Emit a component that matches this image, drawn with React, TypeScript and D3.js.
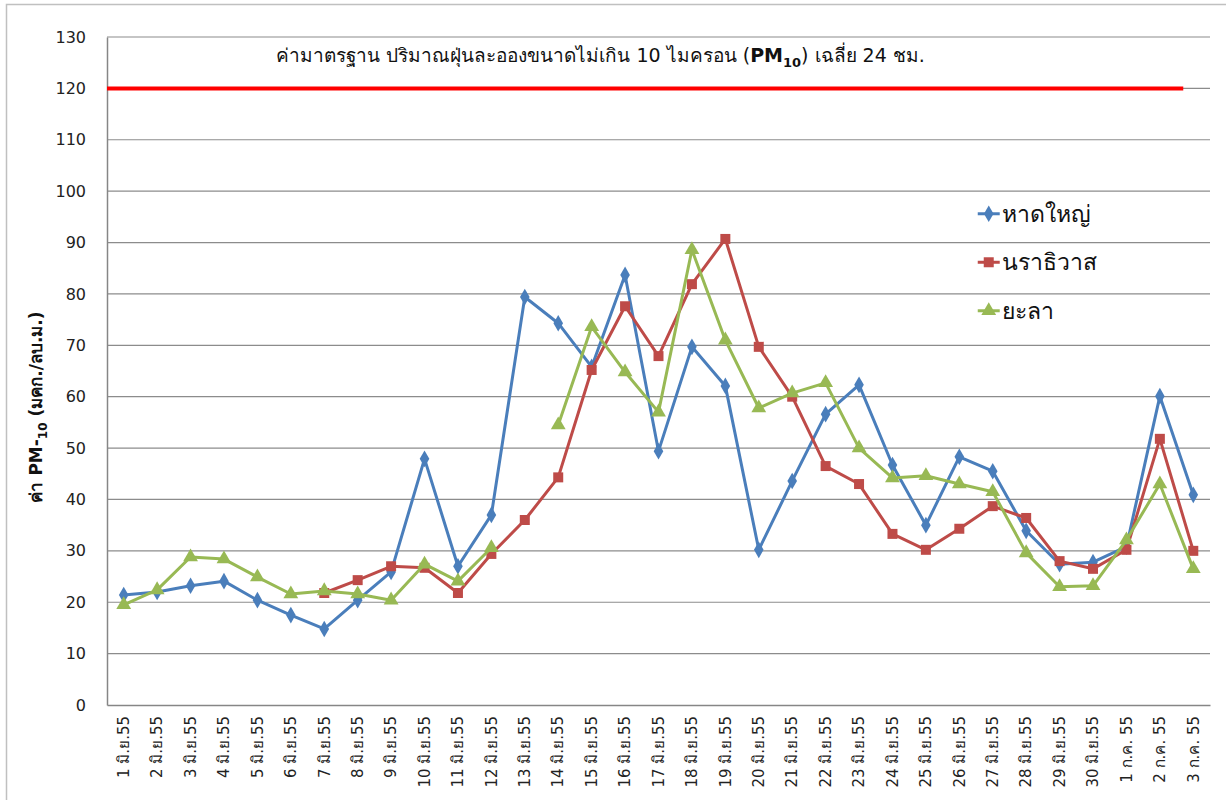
import React, { useEffect, useRef } from 'react';
import * as d3 from 'd3';

const days: string[] = [
  '1 มิ.ย.55', '2 มิ.ย.55', '3 มิ.ย.55', '4 มิ.ย.55', '5 มิ.ย.55', '6 มิ.ย.55', '7 มิ.ย.55',
  '8 มิ.ย.55', '9 มิ.ย.55', '10 มิ.ย.55', '11 มิ.ย.55', '12 มิ.ย.55', '13 มิ.ย.55', '14 มิ.ย.55',
  '15 มิ.ย.55', '16 มิ.ย.55', '17 มิ.ย.55', '18 มิ.ย.55', '19 มิ.ย.55', '20 มิ.ย.55', '21 มิ.ย.55',
  '22 มิ.ย.55', '23 มิ.ย.55', '24 มิ.ย.55', '25 มิ.ย.55', '26 มิ.ย.55', '27 มิ.ย.55', '28 มิ.ย.55',
  '29 มิ.ย.55', '30 มิ.ย.55', '1 ก.ค. 55', '2 ก.ค. 55', '3 ก.ค. 55',
];

// หาดใหญ่
const hatyai: (number | null)[] = [
  21.4, 22, 23.2, 24.1, 20.4, 17.5, 14.8, 20.4, 25.9, 47.9, 27, 37, 79.4, 74.3, 65.8, 83.7, 49.4,
  69.7, 62.1, 30.2, 43.6, 56.6, 62.3, 46.7, 35, 48.3, 45.5, 33.9, 27.4, 27.8, 30.8, 60.1, 40.9,
];

// นราธิวาส
const narathiwat: (number | null)[] = [
  null, null, null, null, null, null, 21.8, 24.3, 27, 26.7, 21.8, 29.4, 36, 44.3, 65.2, 77.6, 67.9,
  81.9, 90.7, 69.7, 60, 46.5, 43, 33.3, 30.2, 34.3, 38.7, 36.4, 28, 26.5, 30.2, 51.8, 30,
];

// ยะลา
const yala: (number | null)[] = [
  19.5, 22.4, 28.8, 28.4, 24.9, 21.6, 22.2, 21.6, 20.4, 27.4, 24.1, 30.6, null, 54.5, 73.6, 64.8, 57,
  88.6, 71, 57.8, 60.7, 62.7, 50, 44.2, 44.6, 43, 41.5, 29.6, 23, 23.2, 32.1, 43, 26.5,
];

const yTicks: number[] = d3.range(0, 131, 10);
const standard = 120;

const seriesList = [
  { name: 'หาดใหญ่', values: hatyai, color: '#4A7EBB', marker: 'diamond' },
  { name: 'นราธิวาส', values: narathiwat, color: '#BE4B48', marker: 'square' },
  { name: 'ยะลา', values: yala, color: '#98B954', marker: 'triangle' },
];

const font = "Tahoma, 'DejaVu Sans', 'Noto Sans', sans-serif";

const App = () => {
  const svgRef = useRef<SVGSVGElement>(null);

  useEffect(() => {
    const root = d3.select(svgRef.current);
    root.selectAll('*').remove();

    const W = 1226;
    const H = 800;
    const margin = { top: 37, right: 16, bottom: 95, left: 107 };
    const width = W - margin.left - margin.right;
    const height = H - margin.top - margin.bottom;

    root.attr('width', W).attr('height', H);

    // chart border
    root.append('rect')
      .attr('x', 6.5).attr('y', 4.5)
      .attr('width', W).attr('height', H)
      .attr('fill', 'none').attr('stroke', '#c0c0c0').attr('stroke-width', 1.5);

    const g = root.append('g').attr('transform', `translate(${margin.left},${margin.top})`);

    const x = d3.scaleBand().domain(days).range([0, width]);
    const y = d3.scaleLinear().domain([0, 130]).range([height, 0]);
    const cx = (d: string) => (x(d) as number) + x.bandwidth() / 2;

    // grid
    g.append('g')
      .selectAll('line')
      .data(yTicks.filter(t => t > 0))
      .enter()
      .append('line')
      .attr('x1', 0).attr('x2', width)
      .attr('y1', d => y(d)).attr('y2', d => y(d))
      .attr('stroke', '#8c8c8c').attr('stroke-width', 1.2);

    // axes
    const yAxis = g.append('g').call(d3.axisLeft(y).tickValues(yTicks).tickSize(0).tickPadding(21));
    yAxis.select('.domain').attr('stroke', '#868686').attr('stroke-width', 1.5);
    yAxis.selectAll('text')
      .attr('font-family', font).attr('font-size', 16).attr('fill', '#222');

    const xAxis = g.append('g')
      .attr('transform', `translate(0,${height})`)
      .call(d3.axisBottom(x).tickSize(0).tickPadding(0));
    xAxis.select('.domain').attr('stroke', '#868686').attr('stroke-width', 1.5);
    xAxis.selectAll('text')
      .attr('font-family', font).attr('font-size', 15).attr('fill', '#222')
      .attr('text-anchor', 'end')
      .attr('dy', '0.35em')
      .attr('transform', 'translate(0,11) rotate(-90)');

    // standard line
    g.append('line')
      .attr('x1', 0).attr('x2', cx(days[days.length - 1]) - x.bandwidth() * 0.3)
      .attr('y1', y(standard)).attr('y2', y(standard))
      .attr('stroke', '#FF0000').attr('stroke-width', 4);

    const title = g.append('text')
      .attr('x', cx(days[4]) + 19).attr('y', y(126.4))
      .attr('dy', '0.35em')
      .attr('font-family', font).attr('font-size', 19).attr('fill', '#111');
    title.append('tspan').text('ค่ามาตรฐาน ปริมาณฝุ่นละอองขนาดไม่เกิน 10 ไมครอน (');
    title.append('tspan').attr('font-weight', 'bold').text('PM');
    title.append('tspan').attr('font-weight', 'bold').attr('font-size', 13).attr('dy', '5').text('10');
    title.append('tspan').attr('dy', '-5').text(') เฉลี่ย 24 ชม.');

    const symbolFor = (m: string) =>
      m === 'diamond' ? d3.symbol().type(d3.symbolDiamond).size(80)
        : m === 'square' ? d3.symbol().type(d3.symbolSquare).size(100)
          : d3.symbol().type(d3.symbolTriangle).size(95);

    seriesList.forEach(s => {
      const pts = days.map((d, i) => ({ d, v: s.values[i] }));
      const line = d3.line<{ d: string; v: number | null }>()
        .defined(p => p.v !== null)
        .x(p => cx(p.d))
        .y(p => y(p.v as number));
      g.append('path')
        .datum(pts)
        .attr('d', line)
        .attr('fill', 'none')
        .attr('stroke', s.color)
        .attr('stroke-width', 3)
        .attr('stroke-linejoin', 'round');
      g.append('g')
        .selectAll('path')
        .data(pts.filter(p => p.v !== null))
        .enter()
        .append('path')
        .attr('d', symbolFor(s.marker)() as string)
        .attr('transform', p => `translate(${cx(p.d)},${y(p.v as number)})`)
        .attr('fill', s.color);
    });

    // legend
    const legend = g.append('g').attr('transform', `translate(${cx(days[26]) - 15},0)`);
    seriesList.forEach((s, i) => {
      const ly = y(95.6) + i * 48.5;
      const row = legend.append('g').attr('transform', `translate(0,${ly})`);
      row.append('line').attr('x1', 0).attr('x2', 22).attr('stroke', s.color).attr('stroke-width', 3);
      row.append('path').attr('d', symbolFor(s.marker)() as string)
        .attr('transform', 'translate(11,0)').attr('fill', s.color);
      row.append('text')
        .attr('x', 24).attr('dy', '0.35em')
        .attr('font-family', font).attr('font-size', 23).attr('fill', '#111')
        .text(s.name);
    });

    // y axis title
    const yl = root.append('text')
      .attr('transform', `translate(42,${margin.top + y(58)}) rotate(-90)`)
      .attr('text-anchor', 'middle')
      .attr('font-family', font).attr('font-size', 17).attr('font-weight', 'bold').attr('fill', '#111');
    yl.append('tspan').text('ค่า PM-');
    yl.append('tspan').attr('font-size', 12).attr('dy', 5).text('10');
    yl.append('tspan').attr('dy', -5).text(' (มคก./ลบ.ม.)');
  }, []);

  return <svg ref={svgRef} style={{ position: 'absolute', left: 0, top: 0 }}></svg>;
};

export default App;
